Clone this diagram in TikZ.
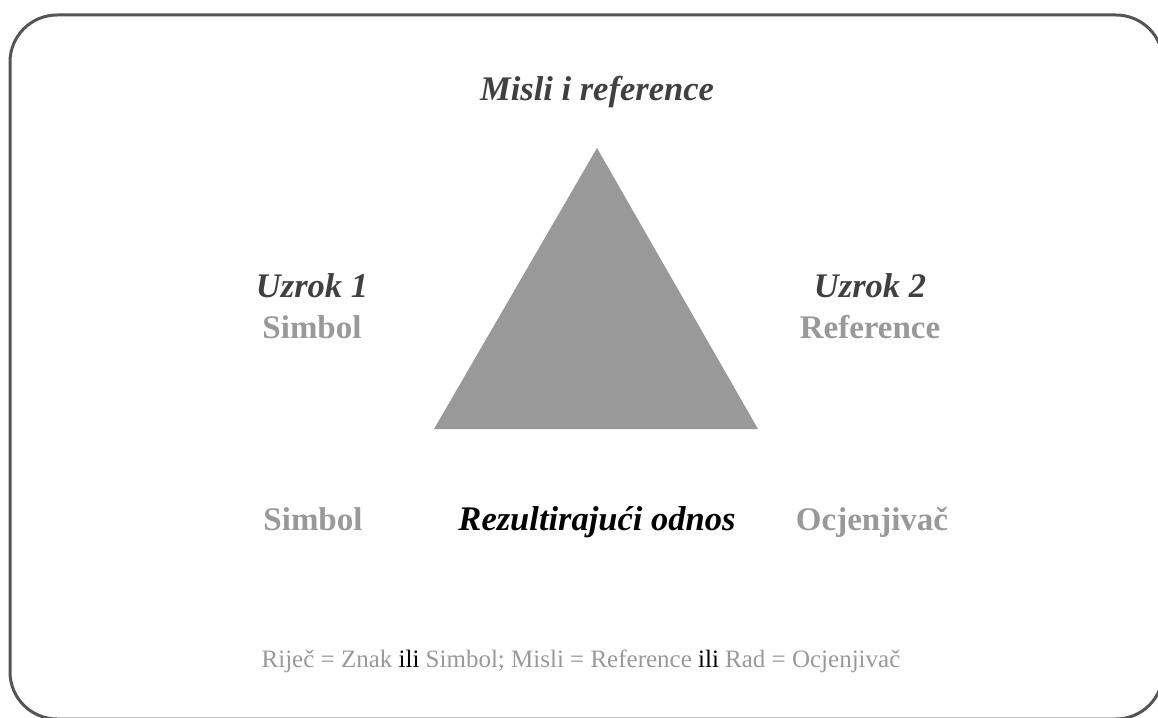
\documentclass[tikz,border=0pt]{standalone}
\usepackage{fontspec}
\setmainfont{Liberation Serif}
\definecolor{framegray}{HTML}{555555}
\definecolor{trigray}{HTML}{999999}
\definecolor{lightgray}{HTML}{999999}
\definecolor{darkgray}{HTML}{404040}
\begin{document}
\begin{tikzpicture}[x=1pt,y=-1pt,
  heading/.style={font=\fontsize{34.5}{38}\selectfont\bfseries\itshape, text=darkgray, anchor=base, inner sep=0pt},
  term/.style={font=\fontsize{33}{36}\selectfont\bfseries, text=lightgray, anchor=base, inner sep=0pt},
  note/.style={font=\fontsize{25}{29}\selectfont, text=lightgray, anchor=base, inner sep=0pt}]
\useasboundingbox (0,0) rectangle (1158,717);
\clip (0,0) rectangle (1158,717);
% outer frame
\draw[framegray, line width=3pt, rounded corners=47pt] (10,15) rectangle (1163,719);
% central triangle
\fill[trigray] (597,148) -- (758,429) -- (434,429) -- cycle;
% labels
\node[heading] (top) at (597,100) {Misli i reference};
\node[heading] (c1) at (312,297) {Uzrok 1};
\node[term] (s1) at (312,338) {Simbol};
\node[heading] (c2) at (870,297) {Uzrok 2};
\node[term] (r2) at (870,338) {Reference};
\node[term] (s3) at (313,530) {Simbol};
\node[heading, text=black] (res) at (597,530) {Rezultirajući odnos};
\node[term] (o3) at (872,530) {Ocjenjivač};
\node[note] (eq) at (581,667) {Riječ = Znak \textcolor{black}{ili} Simbol; Misli = Reference \textcolor{black}{ili} Rad = Ocjenjivač};
\end{tikzpicture}
\end{document}
